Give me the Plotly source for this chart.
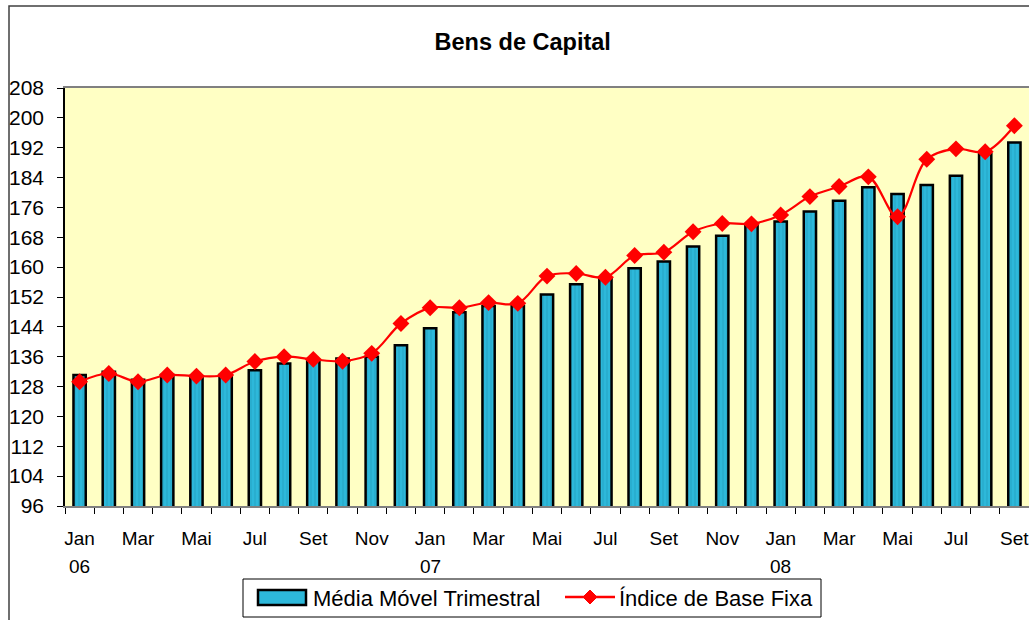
import plotly.graph_objects as go

months = ["Jan 06","Fev 06","Mar 06","Abr 06","Mai 06","Jun 06","Jul 06","Ago 06","Set 06","Out 06","Nov 06","Dez 06",
          "Jan 07","Fev 07","Mar 07","Abr 07","Mai 07","Jun 07","Jul 07","Ago 07","Set 07","Out 07","Nov 07","Dez 07",
          "Jan 08","Fev 08","Mar 08","Abr 08","Mai 08","Jun 08","Jul 08","Ago 08","Set 08"]
tick_text = ["Jan","","Mar","","Mai","","Jul","","Set","","Nov","",
             "Jan","","Mar","","Mai","","Jul","","Set","","Nov","",
             "Jan","","Mar","","Mai","","Jul","","Set"]
year_labels = {"Jan 06": "06", "Jan 07": "07", "Jan 08": "08"}
media_movel = [131.1,132.0,129.8,131.1,130.6,131.1,132.4,134.2,135.1,135.5,136.0,139.1,
               143.6,147.9,149.6,149.6,152.7,155.4,157.0,159.7,161.5,165.5,168.4,171.1,
               172.2,174.9,177.8,181.4,179.6,182.0,184.5,190.3,193.4]
indice_base = [129.3,131.5,129.3,131.1,130.8,131.1,134.7,136.0,135.3,134.8,136.9,144.9,
               149.1,149.1,150.5,150.3,157.6,158.3,157.3,163.1,164.0,169.5,171.7,171.6,
               174.0,178.9,181.6,184.2,173.5,188.9,191.7,190.9,197.9]
y_ticks = list(range(96, 209, 8))
series_names = ["Média Móvel Trimestral", "Índice de Base Fixa"]

FONT = "Liberation Sans, Arial, sans-serif"
BAR_COLOR = "#2DB8DA"

# plot-area geometry (pixels) used to convert pixel positions to paper coords
W, H = 1029, 620
ML, MR, MT, MB = 65, 0, 88, 114
PW, PH = W - ML - MR, H - MT - MB


def px(x):
    return (x - ML) / PW


def py(y):
    return (H - MB - y) / PH


fig = go.Figure()
fig.add_trace(go.Bar(
    x=months, y=media_movel, name=series_names[0],
    width=0.42, showlegend=False,
    marker=dict(color=BAR_COLOR, line=dict(color="black", width=2.5),
                pattern=dict(shape="|", fgcolor="#1A8FB0", bgcolor=BAR_COLOR, size=4, solidity=0.25)),
))
fig.add_trace(go.Scatter(
    x=months, y=indice_base, name=series_names[1], showlegend=False,
    mode="lines+markers",
    line=dict(color="#FF0000", width=2.2, shape="spline", smoothing=1.0),
    marker=dict(symbol="diamond", size=13, color="#FF0000"),
))

fig.update_layout(
    width=W, height=H,
    margin=dict(l=ML, r=MR, t=MT, b=MB),
    paper_bgcolor="white",
    plot_bgcolor="#FFFFC4",
    font=dict(family=FONT, size=21, color="black"),
    title=dict(text="<b>Bens de Capital</b>", x=0.508, xanchor="center",
               y=1 - 42 / H, yanchor="middle", font=dict(size=23.5, family=FONT)),
    showlegend=False,
    bargap=0.5,
)
fig.update_xaxes(
    type="category", tickmode="array", tickvals=months, ticktext=tick_text,
    tickson="boundaries", ticks="outside", ticklen=6, tickcolor="black",
    showline=True, linecolor="#808080", linewidth=2, mirror=True,
    showgrid=False, tickangle=0, range=[-0.5, len(months) - 0.5],
    tickfont=dict(size=19), ticklabelstandoff=14,
)
fig.update_yaxes(
    range=[96, 208], tickmode="array", tickvals=y_ticks,
    ticks="outside", ticklen=6, tickcolor="black",
    showline=True, linecolor="black", linewidth=1.5,
    showgrid=False, zeroline=False, tickfont=dict(size=21), ticklabelstandoff=9,
)

# year labels under January ticks
for m, yr in year_labels.items():
    fig.add_annotation(x=m, xref="x", y=py(566), yref="paper", text=yr, showarrow=False,
                       font=dict(size=19, family=FONT), xanchor="center", yanchor="middle")

# outer chart border
fig.add_shape(type="rect", xref="paper", yref="paper",
              x0=px(9), x1=1.2, y0=-0.6, y1=py(6),
              line=dict(color="#404040", width=1.5), fillcolor="rgba(0,0,0,0)", layer="below")

# legend box
fig.add_shape(type="rect", xref="paper", yref="paper",
              x0=px(243), x1=px(821), y0=py(617), y1=py(579),
              line=dict(color="black", width=1), fillcolor="white", layer="above")
# bar symbol
fig.add_shape(type="rect", xref="paper", yref="paper",
              x0=px(258), x1=px(306), y0=py(605), y1=py(590),
              line=dict(color="black", width=2.5), fillcolor=BAR_COLOR, layer="above")
fig.add_annotation(x=px(311), y=py(598), xref="paper", yref="paper", text=series_names[0],
                   showarrow=False, xanchor="left", yanchor="middle", font=dict(size=22, family=FONT))
# line symbol
fig.add_shape(type="line", xref="paper", yref="paper",
              x0=px(565), x1=px(615), y0=py(597), y1=py(597),
              line=dict(color="#FF0000", width=2.5), layer="above")
cx, cy, d = 590, 597, 7
fig.add_shape(type="path", xref="paper", yref="paper",
              path=f"M {px(cx-d)} {py(cy)} L {px(cx)} {py(cy-d)} L {px(cx+d)} {py(cy)} L {px(cx)} {py(cy+d)} Z",
              line=dict(color="#FF0000", width=1), fillcolor="#FF0000", layer="above")
fig.add_annotation(x=px(617), y=py(598), xref="paper", yref="paper", text=series_names[1],
                   showarrow=False, xanchor="left", yanchor="middle", font=dict(size=22, family=FONT))

fig.write_html("out.html", config={"displayModeBar": False},
               post_script="document.body.style.margin='0';")
